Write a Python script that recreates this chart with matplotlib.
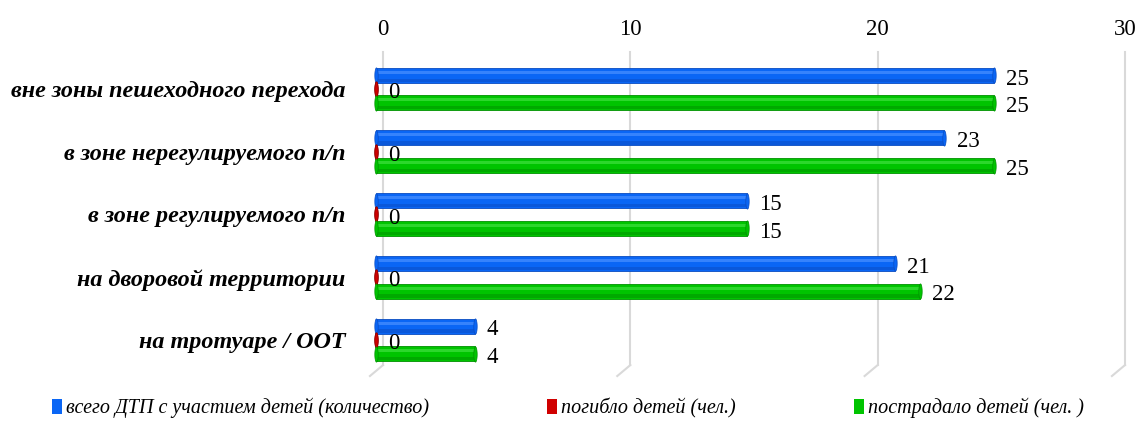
import numpy as np
import matplotlib.pyplot as plt
from matplotlib.patches import Patch

categories = ["вне зоны пешеходного перехода", "в зоне нерегулируемого п/п",
              "в зоне регулируемого п/п", "на дворовой территории",
              "на тротуаре / ООТ"]
series_names = ["всего ДТП с участием детей (количество)",
                "погибло детей (чел.)", "пострадало детей (чел. )"]
total = [25, 23, 15, 21, 4]
killed = [0, 0, 0, 0, 0]
injured = [25, 25, 15, 22, 4]
xticks = [0, 10, 20, 30]

colors = ["#0a66f5", "#d00000", "#00c400"]
edges = ["#0a4cc0", "#8a0000", "#009000"]
shine = ["#4a90ff", "#ff4040", "#40e040"]

plt.rcParams['font.family'] = ['Liberation Serif', 'DejaVu Serif']

fig = plt.figure(figsize=(11.38, 4.23), dpi=100)
ax = fig.add_axes([0.3366, 0.137, 0.652, 0.740])

# vertical ellipse used as cylinder end cap
t = np.linspace(0, 2 * np.pi, 40)
cap = list(zip(0.22 * np.cos(t), np.sin(t)))

y = np.arange(len(categories))
h = 0.22
bh = 0.24
depth = -0.3   # 3D offset of the bars in front of the grid
offsets = [-h, 0, h]
for vals, off, c, e, s in zip([total, killed, injured], offsets, colors, edges, shine):
    vals = np.array(vals)
    ax.barh(y + off, vals, left=depth, height=bh, color=c, edgecolor=e,
            linewidth=0.6, zorder=3, clip_on=False)
    ax.barh(y + off - bh * 0.2, vals, left=depth, height=bh * 0.2, color=s,
            linewidth=0, zorder=4, alpha=0.7, clip_on=False)
    ax.barh(y + off + bh * 0.33, vals, left=depth, height=bh * 0.22, color=e,
            linewidth=0, zorder=4, alpha=0.5, clip_on=False)
    # cylinder end caps
    ax.scatter(np.full(len(vals), depth), y + off, s=120, marker=cap, color=c,
               edgecolor=e, linewidth=0.5, zorder=5, clip_on=False)
    ax.scatter(vals + depth, y + off, s=120, marker=cap, color=c,
               edgecolor=e, linewidth=0.5, zorder=5, clip_on=False)
    for yy, v in zip(y + off, vals):
        ax.text(v + depth + 0.5, yy + 0.06, str(v), va='center', ha='left',
                fontsize=16.5, zorder=6)

ax.set_xlim(0, 30)
ax.set_ylim(4.4, -0.59)
ax.xaxis.tick_top()
ax.set_xticks(xticks)
ax.set_xticklabels([str(t) for t in xticks], fontsize=16.5)
ax.tick_params(axis='x', length=0, pad=9)
ax.set_yticks(y)
ax.set_yticklabels(categories, fontsize=17.4, fontweight='bold', fontstyle='italic')
ax.tick_params(axis='y', length=0, pad=27)
for sp in ax.spines.values():
    sp.set_visible(False)

# gridlines with 3D floor slant
for t in xticks:
    ax.plot([t, t], [4.4, -0.59], color='#d9d9d9', lw=1.5, zorder=1, clip_on=False)
    ax.plot([t, t - 0.53], [4.4, 4.575], color='#d9d9d9', lw=1.5, zorder=1, clip_on=False)

handles = [Patch(facecolor=c, edgecolor='none') for c in colors]
fig.legend(handles, series_names, loc='center', bbox_to_anchor=(0.499, 0.035), ncol=3,
           frameon=False, handlelength=0.5, handleheight=0.8, handletextpad=0.2,
           columnspacing=5.85, prop={'style': 'italic', 'size': 14.5})

fig.savefig("out.png", dpi=100)
